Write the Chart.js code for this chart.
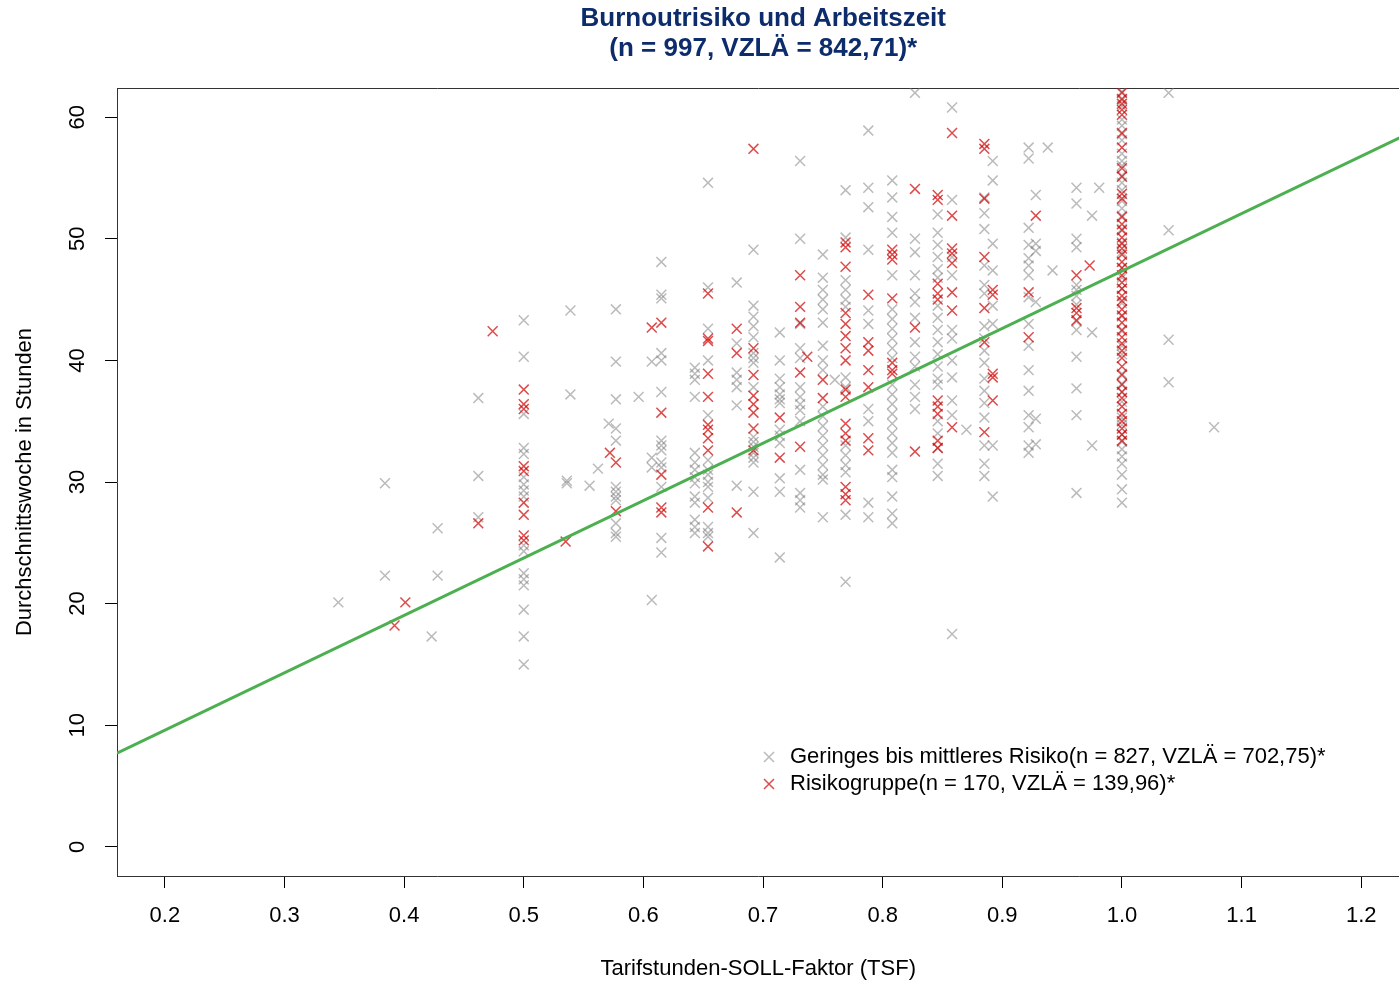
<!DOCTYPE html>
<html><head><meta charset="utf-8">
<script src="https://cdn.jsdelivr.net/npm/chart.js@4.4.1/dist/chart.umd.min.js"></script>
<style>html,body{margin:0;padding:0;background:#fff;overflow:hidden}#wrap{width:1408px;height:982px;position:relative}</style>
</head><body><div id="wrap"><canvas id="c"></canvas></div>
<script>
// ---- data ----
const xTicks = [0.2,0.3,0.4,0.5,0.6,0.7,0.8,0.9,1.0,1.1,1.2];
const yTicks = [0,10,20,30,40,50,60];

// Geringes bis mittleres Risiko: [TSF, [Stunden...]]
const geringesCols = [
 [0.345,[20.1]],
 [0.384,[29.9,22.3]],
 [0.423,[17.3]],
 [0.428,[26.2,22.3]],
 [0.462,[36.9,30.5,27.1]],
 [0.5,[43.3,40.3,35.6,32.8,32.3,30.4,29.8,29.3,28.8,24.8,24.3,22.5,22.0,21.5,19.5,17.3,15.0]],
 [0.536,[29.9,30.1]],
 [0.539,[44.1,37.2]],
 [0.555,[29.7]],
 [0.562,[31.1]],
 [0.571,[34.8]],
 [0.577,[44.2,39.9,36.8,34.4,33.4,29.6,29.2,28.8,28.5,26.6,25.8,25.5]],
 [0.596,[37.0]],
 [0.607,[39.9,32.0,31.2,20.3]],
 [0.615,[48.1,45.4,45.1,40.6,40.0,37.4,33.4,33.0,32.6,31.6,31.2,29.6,25.4,24.2]],
 [0.643,[39.4,38.9,38.4,37.0,32.4,31.6,31.0,30.4,29.9,28.8,28.3,26.9,26.3,25.8]],
 [0.654,[54.6,46.0,42.6,40.0,35.5,31.8,31.0,30.6,30.0,29.6,28.7,26.3,25.8,25.5]],
 [0.678,[46.4,41.4,39.0,38.4,37.8,36.3,29.7]],
 [0.692,[49.1,44.5,43.6,42.8,41.9,40.6,40.2,39.8,37.8,33.7,33.3,32.9,32.4,32.0,31.6,29.2,25.8]],
 [0.714,[42.3,40.0,38.5,37.8,37.2,36.8,36.5,34.3,33.8,33.2,30.3,29.2,23.8]],
 [0.731,[56.4,50.0,43.0,41.0,40.2,37.8,37.0,36.4,35.9,35.0,31.0,29.1,28.5,27.9]],
 [0.75,[48.7,46.8,45.8,45.0,44.2,43.1,41.2,40.0,39.2,36.2,35.4,34.6,33.8,33.0,32.2,31.4,30.6,30.2,27.1]],
 [0.76,[38.4]],
 [0.769,[54.0,50.1,46.6,45.8,45.0,44.4,38.6,37.8,33.0,32.2,31.4,30.8,27.3,21.8]],
 [0.788,[58.9,54.2,52.6,49.1,44.1,43.0,36.0,35.0,28.3,27.1]],
 [0.808,[54.8,53.4,51.8,50.5,47.0,44.2,43.4,42.6,41.8,41.0,40.2,38.0,37.2,36.4,35.6,34.8,34.0,33.2,32.4,31.0,30.4,28.8,27.4,26.6]],
 [0.827,[62.0,50.0,48.9,47.0,45.5,44.8,43.5,41.5,40.3,39.5,38.0,37.0,36.0]],
 [0.846,[52.0,50.5,49.5,48.5,47.5,46.8,44.5,43.5,42.5,41.5,40.5,39.5,38.5,38.0,35.0,34.0,32.8,31.5,30.5]],
 [0.858,[60.8,53.2,48.5,47.0,42.5,41.8,40.0,38.6,36.7,35.5,17.5]],
 [0.87,[34.3]],
 [0.885,[53.4,52.1,50.8,47.8,46.2,45.5,42.8,41.8,40.8,39.8,38.5,37.5,36.5,35.3,33.0,31.5,30.5]],
 [0.892,[56.4,54.8,49.6,47.4,44.5,43.0,33.0,28.8]],
 [0.922,[57.5,56.6,50.9,49.5,48.4,47.8,47.0,45.2,43.0,41.2,39.2,37.5,35.5,34.5,33.0,32.4]],
 [0.928,[53.6,49.6,49.0,44.8,35.2,33.1]],
 [0.938,[57.5]],
 [0.942,[47.4]],
 [0.962,[54.2,52.9,50.0,49.3,46.2,45.8,45.3,44.6,43.2,42.5,40.3,37.7,35.5,29.1]],
 [0.975,[51.9,42.3,33.0]],
 [0.981,[54.2]],
 [1.0,[62.1,61.4,60.9,59.8,59.3,58.6,58.1,57.0,56.4,56.0,55.2,54.6,54.0,53.1,52.5,51.9,50.8,49.7,48.9,47.6,46.8,45.9,44.7,43.6,42.4,41.2,40.5,38.9,38.1,37.4,36.6,35.3,34.7,33.9,33.3,32.7,32.1,31.5,30.6,29.4,28.3]],
 [1.039,[62.0,50.7,41.7,38.2]],
 [1.077,[34.5]]
];

// Risikogruppe: [TSF, [Stunden...]]
const risikoCols = [
 [0.392,[18.2]],
 [0.401,[20.1]],
 [0.462,[26.6]],
 [0.474,[42.4]],
 [0.5,[37.6,36.4,36.0,31.3,30.9,28.3,27.3,25.6,25.2]],
 [0.535,[25.1]],
 [0.572,[32.4]],
 [0.577,[31.6,27.6]],
 [0.607,[42.7]],
 [0.615,[43.1,35.7,30.6,27.9,27.5]],
 [0.654,[45.5,41.8,41.6,38.9,37.0,34.7,34.3,33.6,32.6,27.9,24.7]],
 [0.678,[42.6,40.6,27.5]],
 [0.692,[57.4,41.0,38.8,37.1,36.4,35.7,34.4,32.6]],
 [0.714,[35.3,32.0]],
 [0.731,[47.0,44.4,43.1,39.0,32.9]],
 [0.737,[40.3]],
 [0.75,[38.4,36.9]],
 [0.769,[49.7,49.3,47.7,43.9,43.0,42.0,41.0,40.0,37.6,37.0,34.8,34.0,33.4,29.6,29.0,28.5]],
 [0.788,[45.4,41.5,40.8,39.2,37.8,33.6,32.6]],
 [0.808,[49.1,48.7,48.3,45.1,39.8,39.2,38.9]],
 [0.827,[54.1,42.7,32.5]],
 [0.846,[53.6,53.2,46.3,45.5,45.0,36.7,36.2,35.6,33.4,32.8]],
 [0.858,[58.7,51.9,49.2,48.8,48.0,45.6,44.1,34.5]],
 [0.885,[57.8,57.4,53.3,48.5,44.3,41.5,34.1]],
 [0.892,[45.8,45.4,38.9,38.6,36.7]],
 [0.922,[45.6,41.9]],
 [0.928,[51.9]],
 [0.962,[47.0,44.3,43.9,43.3]],
 [0.973,[47.8]],
 [1.0,[62.0,61.5,61.1,60.6,60.2,58.7,57.5,55.8,55.1,53.7,53.3,51.8,51.2,50.7,50.1,49.6,49.2,48.7,48.1,47.6,47.0,46.4,45.9,45.3,44.9,44.2,43.7,43.1,42.5,41.9,41.4,40.8,40.2,39.5,38.8,38.0,37.4,36.9,36.2,35.6,35.0,34.4,33.9,33.4]]
];

// regression line end points (at the plot edges)
const lineX = [0.16, 1.232];
const lineY = [7.7, 58.3];

const titleLines = ['Burnoutrisiko und Arbeitszeit', '(n = 997, VZLÄ = 842,71)*'];
const seriesLabels = ['Geringes bis mittleres Risiko(n = 827, VZLÄ = 702,75)*', 'Risikogruppe(n = 170, VZLÄ = 139,96)*'];

// ---- chart ----
Chart.defaults.font.family = "'Liberation Sans', Arial, Helvetica, sans-serif";
Chart.defaults.color = '#000';

const flatten = cols => cols.flatMap(([x, ys]) => ys.map(y => ({x, y})));

const placePlugin = {
  id: 'place',
  afterLayout(chart) {
    const a = chart.chartArea;
    const t = chart.titleBlock;
    if (t) { t.left = a.left; t.right = a.right + 10; }
    const lg = chart.legend;
    if (lg) {
      const w = lg.width, h = lg.height;
      lg.left = 754; lg.top = 741; lg.right = 754 + w; lg.bottom = 741 + h;
    }
  }
};

const axisGrid = { display: true, drawOnChartArea: false, drawTicks: true, tickLength: 12, tickColor: '#000', tickWidth: 1 };
const axisBorder = { display: true, color: '#333', width: 1 };

new Chart(document.getElementById('c'), {
  type: 'scatter',
  data: {
    datasets: [
      { type: 'scatter', label: seriesLabels[0], data: flatten(geringesCols), pointStyle: 'crossRot', pointRadius: 7,
        borderColor: 'rgba(120,120,120,0.5)', backgroundColor: 'rgba(120,120,120,0.5)', borderWidth: 1.5, order: 2 },
      { type: 'scatter', label: seriesLabels[1], data: flatten(risikoCols), pointStyle: 'crossRot', pointRadius: 7,
        borderColor: 'rgba(205,0,0,0.7)', backgroundColor: 'rgba(205,0,0,0.7)', borderWidth: 1.5, order: 1 },
      { type: 'line', label: 'Regression', data: lineX.map((x, i) => ({x, y: lineY[i]})), borderColor: '#4caf50',
        borderWidth: 3, pointRadius: 0, fill: false, order: 0 }
    ]
  },
  options: {
    responsive: true, maintainAspectRatio: false, animation: false, events: [],
    layout: { padding: 0 },
    plugins: {
      tooltip: { enabled: false },
      title: { display: true, text: titleLines, color: '#0d2c6c',
               font: { size: 26, weight: 'bold', lineHeight: '30px' }, padding: { top: 4, bottom: 24 } },
      legend: { display: true, position: 'chartArea', align: 'start',
        labels: { usePointStyle: true, boxWidth: 20, boxHeight: 10, padding: 5, color: '#000', font: { size: 22 },
                  filter: item => item.datasetIndex < 2, sort: (a, b) => a.datasetIndex - b.datasetIndex } }
    },
    scales: {
      x: { type: 'linear', position: 'bottom', min: 0.16, max: 1.232,
        afterBuildTicks: s => { s.ticks = xTicks.map(v => ({ value: v })); },
        afterFit: s => { s.height = 106; },
        ticks: { padding: 15, font: { size: 22 }, color: '#000', maxRotation: 0, autoSkip: false,
                 callback: v => Number(v).toFixed(1) },
        grid: axisGrid, border: axisBorder,
        title: { display: true, text: 'Tarifstunden-SOLL-Faktor (TSF)', font: { size: 22 }, color: '#000', padding: { top: 0, bottom: 0 } } },
      x2: { type: 'linear', position: 'top', min: 0, max: 1, display: true,
        afterFit: s => { s.height = 0; },
        ticks: { display: false }, grid: { display: false, drawTicks: false }, border: axisBorder },
      y: { type: 'linear', position: 'left', min: -2.4, max: 62.4,
        afterBuildTicks: s => { s.ticks = yTicks.map(v => ({ value: v })); },
        afterFit: s => { s.width = 117; },
        ticks: { padding: 15, font: { size: 22 }, color: '#000', minRotation: 90, maxRotation: 90, crossAlign: 'center', autoSkip: false },
        grid: axisGrid, border: axisBorder,
        title: { display: true, text: 'Durchschnittswoche in Stunden', font: { size: 22 }, color: '#000', padding: { top: 12, bottom: 0 } } }
    }
  },
  plugins: [placePlugin]
});
</script></body></html>
